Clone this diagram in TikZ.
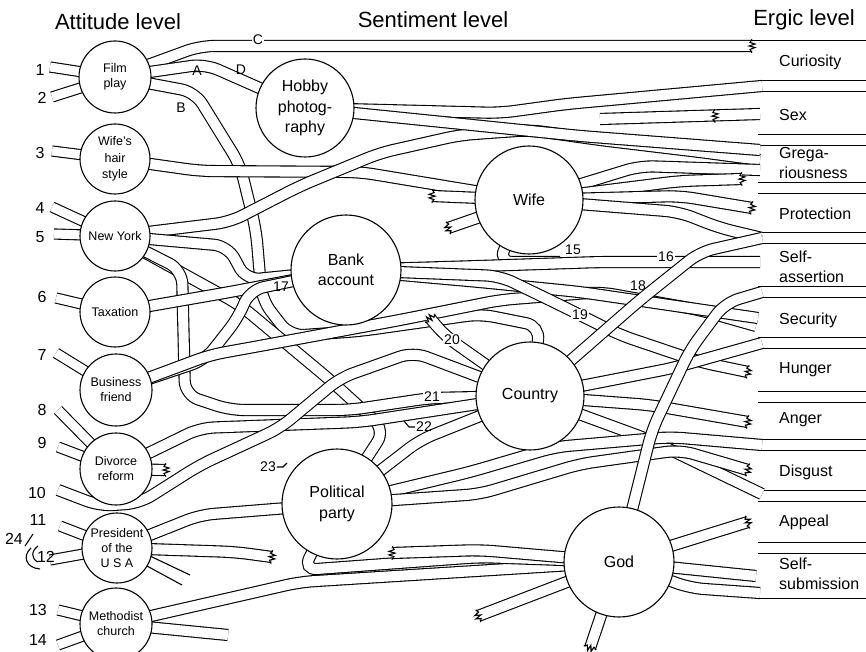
\documentclass[tikz,border=0pt]{standalone}
\usepackage{fontspec}
\setmainfont{Liberation Sans}
\usetikzlibrary{calc}
\pgfdeclarelayer{bg}
\pgfsetlayers{bg,main}
\begin{document}
\begin{tikzpicture}[x=1pt,y=-1pt,
  rib/.style={draw=black, line width=1.1pt, double=white, double distance=10pt, rounded corners=14pt},
  inrib/.style={draw=black, line width=1.1pt, double=white, double distance=9pt},
  chan/.style={draw=black, line width=1.1pt, double=white, double distance=9.5pt},
  att/.style={circle, draw, line width=1.1pt, fill=white, inner sep=0pt, align=center, font=\fontsize{12.5}{15}\selectfont},
  sent/.style={circle, draw, line width=1.1pt, fill=white, inner sep=0pt, align=center, font=\fontsize{16}{20.5}\selectfont},
  title/.style={font=\fontsize{22}{26}\selectfont},
  erg/.style={anchor=west, align=left, font=\fontsize{16}{19.5}\selectfont, inner sep=0pt},
  num/.style={font=\fontsize{16}{18}\selectfont, inner sep=0.5pt},
  mid/.style={font=\fontsize{14}{16}\selectfont, inner sep=1pt},
  thin/.style={line width=1.1pt},
  zz/.pic={\draw[line width=1.1pt, line join=miter] (0,-6.6) -- (-2,-3.5) -- (3,-2) -- (-3,0) -- (3,1.5) -- (-2,3.5) -- (0,6.6);}
]
\useasboundingbox (0,0) rectangle (866,652);

% ---------- titles ----------
\node[title] (tatt) at (118,22) {Attitude level};
\node[title] (tsent) at (433,20) {Sentiment level};
\node[title] (terg) at (804,20) {Ergic level};

% ---------- attitude circles ----------
\node[att, minimum size=72pt] (film) at (115,77) {Film\\play};
\node[att, minimum size=70pt, font=\fontsize{12.5}{16.5}\selectfont] (hair) at (115,159) {Wife's\\hair\\style};
\node[att, minimum size=70pt] (ny) at (115,236) {New York};
\node[att, minimum size=70pt] (tax) at (115,312) {Taxation};
\node[att, minimum size=72pt] (biz) at (116,390) {Business\\friend};
\node[att, minimum size=72pt] (div) at (116,469) {Divorce\\reform};
\node[att, minimum size=70pt] (pres) at (117,548) {President\\of the\\U S A};
\node[att, minimum size=72pt] (meth) at (116,624) {Methodist\\church};

% ---------- sentiment circles ----------
\node[sent, minimum size=98pt] (hobby) at (305,108) {Hobby\\photog-\\raphy};
\node[sent, minimum size=108pt] (wife) at (529,200) {Wife};
\node[sent, minimum size=110pt] (bank) at (346,270) {Bank\\account};
\node[sent, minimum size=108pt] (country) at (530,396) {Country};
\node[sent, minimum size=110pt] (party) at (337,504) {Political\\party};
\node[sent, minimum size=110pt] (god) at (619,562) {God};

% ---------- ergic labels ----------
\node[erg] (e1) at (779,62) {Curiosity};
\node[erg] (e2) at (779,115) {Sex};
\node[erg] (e3) at (779,163) {Grega-\\riousness};
\node[erg] (e4) at (779,214) {Protection};
\node[erg] (e5) at (779,267) {Self-\\assertion};
\node[erg] (e6) at (779,320) {Security};
\node[erg] (e7) at (779,370) {Hunger};
\node[erg] (e8) at (779,420) {Anger};
\node[erg] (e9) at (779,472) {Disgust};
\node[erg] (e10) at (779,522) {Appeal};
\node[erg] (e11) at (779,574) {Self-\\submission};

% ---------- input numbers ----------
\node[num] (n1) at (40,70) {1};
\node[num] (n2) at (42,98) {2};
\node[num] (n3) at (40,153) {3};
\node[num] (n4) at (40,208) {4};
\node[num] (n5) at (40,237) {5};
\node[num] (n6) at (42,297) {6};
\node[num] (n7) at (42,355) {7};
\node[num] (n8) at (42,410) {8};
\node[num] (n9) at (42,443) {9};
\node[num] (n10) at (37,493) {10};
\node[num] (n11) at (38,520) {11};
\node[num] (n24) at (14,539) {24};
\node[num] (n12) at (46,557) {12};
\node[num] (n13) at (38,610) {13};
\node[num] (n14) at (38,640) {14};
\draw[thin] (25,546) -- (33,534);
\draw[thin] (38,546) .. controls (31,551) and (31,559) .. (38,562);
\draw[thin] (31,548) .. controls (22,556) and (26,568) .. (40,569);

% ---------- middle labels ----------
\node[mid, fill=white] (lC) at (258,40) {C};
\node[mid] (lA) at (197,71) {A};
\node[mid] (lB) at (181,108) {B};
\node[mid] (lD) at (241,70) {D};
\node[mid] (l15) at (573,250) {15};
\node[mid, fill=white] (l16) at (666,257) {16};
\node[mid] (l17) at (281,287) {17};
\node[mid] (l18) at (638,286) {18};
\node[mid, fill=white] (l19) at (580,315) {19};
\node[mid, fill=white] (l20) at (452,340) {20};
\node[mid, fill=white] (l21) at (432,397) {21};
\node[mid] (l22) at (424,427) {22};
\node[mid] (l23) at (268,467) {23};
\draw[thin] (l22.west) -- ++(-6,0) -- ++(-5,-6);
\draw[thin] (l23.east) -- ++(6,0) -- ++(4,-4);

\begin{pgfonlayer}{bg}
% ---------- erg channels ----------
\foreach \y in {86,140,188,238,292,343,397,445,496,548}
  \draw[chan] (758,\y) -- (875,\y);
\draw[thin] (740,40.45) -- (875,40.45);
\draw[thin] (755,598.5) -- (875,598.5);

% ---------- inputs ----------
\draw[inrib] (50,67) -- (film.center);
\draw[inrib] (52,97) -- (film.center);
\draw[inrib] (52,151) -- (hair.center);
\draw[inrib] (52,207) -- (ny.center);
\draw[inrib] (54,234) -- (ny.center);
\draw[inrib] (56,298) -- (tax.center);
\draw[inrib] (56,353) -- (biz.center);
\draw[inrib] (58,410) -- (div.center);
\draw[inrib] (58,447) -- (div.center);
\draw[inrib] (60,526) -- (pres.center);
\draw[inrib] (50,560) -- (pres.center);
\draw[inrib] (58,610) -- (meth.center);
\draw[inrib] (58,645) -- (meth.center);

% ---------- attitude -> sentiment / erg ----------
\draw[rib] (film.center) -- (200,46) -- (752,46);
\pic[rotate=0] at (752,46) {zz};
\draw[rib] (film.center) -- (205,64) -- (hobby.center);
\draw[rib] (film.center) -- (195,92) -- (240,165) -- (256,230) -- (262,300) -- (290,336) -- (360,331) -- (480,314) -- (540,326) -- (country.center);
\draw[rib] (hair.center) -- (200,171) -- (360,172) -- (wife.center);
\draw[rib] (ny.center) -- (230,222) -- (300,186) -- (380,153) -- (460,135) -- (530,130) -- (600,140) -- (700,152) -- (760,160);
\draw[rib] (ny.center) -- (228,246) -- (246,280) -- (bank.center);
\draw[rib] (ny.center) -- (240,305) -- (330,380) -- (385,430) -- (party.center);
\draw[rib] (ny.center) -- (182,270) -- (185,395) -- (230,410) -- (350,410) -- (430,398) -- (country.center);
\draw[rib] (tax.center) -- (230,292) -- (bank.center);
\draw[rib] (biz.center) -- (205,360) -- (238,318) -- (250,290) -- (bank.center);
\draw[rib] (biz.center) -- (210,355) -- (265,345) -- (400,320) -- (500,300) -- (600,292) -- (700,310) -- (756,326);
\draw[rib] (div.center) -- (200,428) -- (360,422) -- (country.center);
\draw[rib] (div.center) -- (166,470);
\pic[rotate=0] at (166,470) {zz};
\draw[rib] (58,490) -- (100,506) -- (140,503) -- (200,465) -- (280,428) -- (340,378) -- (413,352) -- (country.center);
\draw[rib] (pres.center) -- (200,515) -- (party.center);
\draw[rib] (pres.center) -- (235,552) -- (272,557);
\pic[rotate=-8] at (272,557) {zz};
\draw[thin] (150,556) -- (190,575);
\draw[thin] (147,566) -- (182,585);
\draw[rib] (meth.center) -- (300,582) -- (god.center);
\draw[rib] (meth.center) -- (228,635);

% ---------- sentiment -> erg ----------
\draw[rib] (hobby.center) -- (500,113) -- (566,104) -- (762,86);
\draw[rib] (hobby.center) -- (580,136) -- (760,150);
\draw[rib] (600,119) -- (760,114);
\pic[rotate=2] at (715,116) {zz};
\draw[rib] (wife.center) -- (640,166) -- (760,170);
\draw[rib] (wife.center) -- (680,181) -- (742,179);
\pic[rotate=2] at (742,179) {zz};
\draw[rib] (wife.center) -- (680,196) -- (752,208);
\pic[rotate=-9] at (752,208) {zz};
\draw[rib] (wife.center) -- (679,212) -- (720,228) -- (762,238);
\draw[rib] (wife.center) -- (432,196);
\pic[rotate=178] at (432,196) {zz};
\draw[rib] (wife.center) -- (448,228);
\pic[rotate=199] at (448,228) {zz};
\draw[rib] (wife.center) -- (498,262) -- (560,262);
\draw[rib] (bank.center) -- (480,266) -- (600,262) -- (760,262);
\draw[rib] (bank.center) -- (480,282) -- (580,292) -- (758,318);
\draw[rib] (bank.center) -- (500,276) -- (560,305) -- (620,335) -- (700,362) -- (748,372);
\pic[rotate=-12] at (748,372) {zz};
\draw[rib] (country.center) -- (640,300) -- (700,252) -- (762,238);
\draw[rib] (country.center) -- (673,368) -- (762,343);
\draw[rib] (country.center) -- (650,440) -- (762,494);
\draw[rib] (country.center) -- (650,405) -- (748,422);
\pic[rotate=-10] at (748,422) {zz};
\draw[rib] (country.center) -- (445,336) -- (430,318);
\pic[rotate=130] at (430,318) {zz};
\draw[rib] (country.center) -- (420,440) -- (party.center);
\draw[rib] (party.center) -- (470,472) -- (555,447) -- (670,437) -- (762,445);
\draw[rib] (party.center) -- (480,494) -- (580,464) -- (680,450) -- (748,470);
\pic[rotate=-16] at (748,470) {zz};
\draw[rib] (party.center) -- (303,570) -- (480,557) -- (god.center);
\draw[rib] (god.center) -- (652,430) -- (690,350) -- (725,303) -- (762,292);
\draw[rib] (god.center) -- (748,522);
\pic[rotate=17] at (748,522) {zz};
\draw[rib] (god.center) -- (756,576);
\draw[rib] (god.center) -- (690,588) -- (760,593);
\draw[rib] (god.center) -- (480,550) -- (392,553);
\pic[rotate=178] at (392,553) {zz};
\draw[rib] (god.center) -- (478,616);
\pic[rotate=-159] at (478,616) {zz};
\draw[rib] (god.center) -- (590,648);
\pic[rotate=-108] at (590,648) {zz};
\end{pgfonlayer}
\end{tikzpicture}
\end{document}
